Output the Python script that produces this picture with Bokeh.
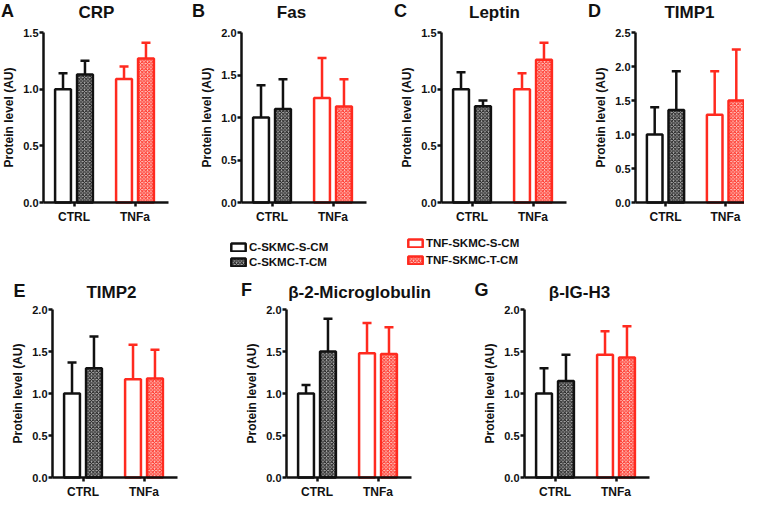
from bokeh.plotting import figure
from bokeh.models import (Range1d, FixedTicker, NumeralTickFormatter,
                          Label, Whisker, TeeHead, ColumnDataSource, Legend, LegendItem)
from bokeh.layouts import column, row
from bokeh.transform import dodge
from bokeh.embed import file_html
from bokeh.resources import INLINE

# ---------------- data ----------------
groups = ["CTRL", "TNFa"]
titles = ["CRP", "Fas", "Leptin", "TIMP1", "TIMP2", "β-2-Microglobulin", "β-IG-H3"]
letters = ["A", "B", "C", "D", "E", "F", "G"]
y_max = [1.5, 2.0, 1.5, 2.5, 2.0, 2.0, 2.0]
y_step = 0.5

c_s_mean = [1.00, 1.00, 1.00, 1.00, 1.00, 1.00, 1.00]
c_s_err = [0.14, 0.38, 0.15, 0.40, 0.37, 0.10, 0.30]
c_t_mean = [1.13, 1.10, 0.85, 1.36, 1.30, 1.50, 1.15]
c_t_err = [0.12, 0.35, 0.05, 0.57, 0.38, 0.39, 0.31]
tnf_s_mean = [1.09, 1.23, 1.00, 1.29, 1.17, 1.48, 1.46]
tnf_s_err = [0.11, 0.47, 0.14, 0.64, 0.41, 0.36, 0.28]
tnf_t_mean = [1.27, 1.13, 1.26, 1.50, 1.18, 1.47, 1.43]
tnf_t_err = [0.14, 0.32, 0.15, 0.75, 0.34, 0.32, 0.37]

legend_labels = ["C-SKMC-S-CM", "C-SKMC-T-CM", "TNF-SKMC-S-CM", "TNF-SKMC-T-CM"]

# ---------------- styles ----------------
BLACK = "#111111"
RED = "#ff2a1f"
FONT = "Liberation Sans"

styles = [
    dict(group="CTRL", off=-0.18, color=BLACK, fill="white", hatch=None, hcol=BLACK),
    dict(group="CTRL", off=0.18, color=BLACK, fill="#b0b0b0", hatch="diagonal_cross", hcol="#1a1a1a"),
    dict(group="TNFa", off=-0.18, color=RED, fill="white", hatch=None, hcol=RED),
    dict(group="TNFa", off=0.18, color=RED, fill="#ffcbc5", hatch="diagonal_cross", hcol=RED),
]
means = [c_s_mean, c_t_mean, tnf_s_mean, tnf_t_mean]
errs = [c_s_err, c_t_err, tnf_s_err, tnf_t_err]
group_pos = {g: k + 0.5 for k, g in enumerate(groups)}


def bar_kwargs(st):
    kw = dict(fill_color=st["fill"], line_color=st["color"], line_width=2.5)
    if st["hatch"]:
        kw.update(hatch_pattern=st["hatch"], hatch_color=st["hcol"], hatch_scale=3.5,
                  hatch_weight=1.0)
    return kw


sources = []


def make_panel(i, W, H, x_ax, y_ax, sx, plot_h, letter_dx, letter_dy, title_dx, title_dy):
    sy = plot_h / y_max[i]
    p = figure(width=W, height=H,
               x_range=Range1d(-x_ax / sx, (W - x_ax) / sx),
               y_range=Range1d(-(H - y_ax) / sy, y_ax / sy),
               output_backend="svg", toolbar_location=None,
               min_border_left=0, min_border_right=0,
               min_border_top=0, min_border_bottom=0)
    p.outline_line_color = None
    p.xgrid.visible = False
    p.ygrid.visible = False
    p.background_fill_color = "white"

    srcs = []
    for k, st in enumerate(styles):
        src = ColumnDataSource(dict(gx=[group_pos[st["group"]]], top=[means[k][i]],
                                    up=[means[k][i] + errs[k][i]]))
        srcs.append(src)
        xs = dodge("gx", st["off"])
        w = Whisker(base=xs, lower="top", upper="up", source=src,
                    line_color=st["color"], line_width=2.5,
                    upper_head=TeeHead(size=9, line_color=st["color"], line_width=2.5),
                    lower_head=None)
        p.add_layout(w)
        p.vbar(x=xs, top="top", bottom=0, width=0.26, source=src, **bar_kwargs(st))
    sources.append(srcs)

    nt = int(round(y_max[i] / y_step))
    p.yaxis.ticker = FixedTicker(ticks=[round(j * y_step, 2) for j in range(nt + 1)])
    p.yaxis.formatter = NumeralTickFormatter(format="0.0")
    p.yaxis.axis_label = "Protein level (AU)"
    p.yaxis.fixed_location = 0
    p.yaxis.bounds = (0, y_max[i])
    p.xaxis.ticker = FixedTicker(ticks=[group_pos[g] for g in groups])
    p.xaxis.major_label_overrides = {group_pos[g]: g for g in groups}
    p.xaxis.fixed_location = 0
    p.xaxis.bounds = (0, len(groups) + 0.05)
    for ax in (p.xaxis[0], p.yaxis[0]):
        ax.axis_line_width = 2.5
        ax.axis_line_color = BLACK
        ax.major_tick_line_width = 2.5
        ax.major_tick_line_color = BLACK
        ax.major_tick_in = 0
        ax.major_tick_out = 4
        ax.minor_tick_out = 0
        ax.minor_tick_in = 0
        ax.major_label_text_font = FONT
        ax.major_label_text_font_style = "bold"
        ax.major_label_text_color = BLACK
    p.xaxis.major_label_text_font_size = "12px"
    p.yaxis.major_label_text_font_size = "11px"
    p.xaxis.major_label_standoff = 3
    p.yaxis.major_label_standoff = 1
    p.yaxis.axis_label_text_font = FONT
    p.yaxis.axis_label_text_font_size = "12px"
    p.yaxis.axis_label_text_font_style = "bold"
    p.yaxis.axis_label_text_color = BLACK
    p.yaxis.axis_label_standoff = 4

    common = dict(text_font=FONT, text_font_style="bold", text_color=BLACK,
                  text_align="center", text_baseline="middle")
    p.add_layout(Label(x=0, y=y_max[i], x_offset=letter_dx, y_offset=letter_dy,
                       text=letters[i], text_font_size="18px", **common))
    p.add_layout(Label(x=0, y=y_max[i], x_offset=title_dx, y_offset=title_dy,
                       text=titles[i], text_font_size="17px", **common))
    return p


# top row: height 228, zero line at 202, 170 px per axis height
pA = make_panel(0, 190, 228, 43, 202, 61, 170, -36, 22, 53, 20)
pB = make_panel(1, 200, 228, 51, 202, 61, 170, -43, 22, 50, 20)
pC = make_panel(2, 185, 228, 51, 202, 61, 170, -41, 22, 53, 20)
pD = make_panel(3, 169, 228, 60, 202, 60, 170, -41, 22, 54, 20)
# bottom row: height 226, zero line at 203, 168 px per axis height
pE = make_panel(4, 235, 226, 52, 203, 61, 168, -33, 19, 59, 17)
pF = make_panel(5, 205, 226, 51, 203, 61, 168, -40, 20, 73, 17)
pG = make_panel(6, 304, 226, 84, 203, 61, 168, -43, 20, 55, 17)

# ---------------- legend strip ----------------
lp = figure(width=744, height=46, x_range=Range1d(0, 1), y_range=Range1d(0, 1),
            output_backend="svg", toolbar_location=None,
            min_border_left=0, min_border_right=0, min_border_top=0, min_border_bottom=0)
lp.outline_line_color = None
lp.axis.visible = False
lp.xgrid.visible = False
lp.ygrid.visible = False
rs = []
for k, st in enumerate(styles):
    rs.append(lp.vbar(x=dodge("gx", st["off"]), top="top", bottom=0, width=0.26,
                      source=sources[0][k], visible=False, **bar_kwargs(st)))

for items, loc, sp in (([0, 1], (229, 6), 3), ([2, 3], (406, 8), 5)):
    leg = Legend(items=[LegendItem(label=legend_labels[k], renderers=[rs[k]]) for k in items],
                 location=loc, orientation="vertical",
                 glyph_width=18, glyph_height=10, label_height=12, label_standoff=2,
                 spacing=sp, padding=0, margin=0,
                 border_line_color=None, background_fill_alpha=0,
                 inactive_fill_alpha=0,
                 label_text_font=FONT, label_text_font_size="11.5px",
                 label_text_font_style="bold", label_text_color=BLACK)
    lp.add_layout(leg)

layout = column(row(pA, pB, pC, pD), lp, row(pE, pF, pG))
open("out.html", "w").write(file_html(layout, INLINE))
